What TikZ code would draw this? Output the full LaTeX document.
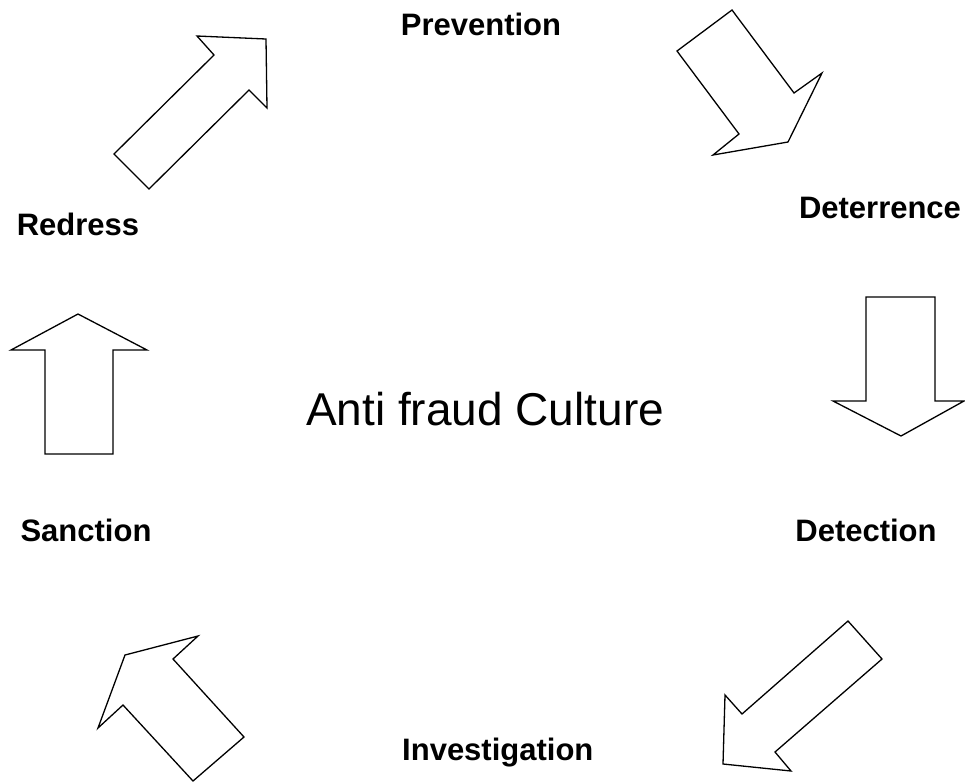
\documentclass[tikz,border=0pt]{standalone}
\usepackage{fontspec}
\setmainfont{Liberation Sans}
\usepackage{tikz}
\tikzset{
	stage/.style    = {font=\fontsize{31}{36}\selectfont\bfseries, anchor=base, inner sep=0pt},
	centre/.style   = {font=\fontsize{46}{52}\selectfont, anchor=base, inner sep=0pt},
	blockarrow/.style = {draw, line width=1.3pt, line join=miter, fill=white}
}

\begin{document}
\begin{tikzpicture}[x=1pt, y=-1pt]
	\useasboundingbox (0,0) rectangle (965,782);
	% labels round the cycle
	\node[stage] (prev) at (481,35) {Prevention};
	\node[stage] (dete) at (880,218) {Deterrence};
	\node[stage] (detc) at (866,541) {Detection};
	\node[stage, anchor=base west] (inve) at (402,760) {Investigation};
	\node[stage] (sanc) at (86,541) {Sanction};
	\node[stage] (redr) at (78,235) {Redress};
	\node[centre] (cult) at (485,425) {Anti fraud Culture};
	
	% block arrows
	\draw[blockarrow] (114,154) -- (214,55) -- (197,36) -- (266,39) -- (267,108) -- (249,90) -- (149,189) -- cycle;
	\draw[blockarrow] (677,51) -- (732,10) -- (794,93) -- (822,73) -- (788,142) -- (713,155) -- (739,134) -- cycle;
	\draw[blockarrow] (866,297) -- (935,297) -- (935,401) -- (964,401) -- (901,436) -- (833,401) -- (866,401) -- cycle;
	\draw[blockarrow] (848,621) -- (882,659) -- (775,752) -- (791,771) -- (723,764) -- (725,695) -- (742,714) -- cycle;
	\draw[blockarrow] (198,636) -- (173,659) -- (244,737) -- (193,781) -- (123,705) -- (98,728) -- (125,655) -- cycle;
	\draw[blockarrow] (78,314) -- (147,350) -- (113,350) -- (113,454) -- (45,454) -- (45,350) -- (11,350) -- cycle;
\end{tikzpicture}
\end{document}
